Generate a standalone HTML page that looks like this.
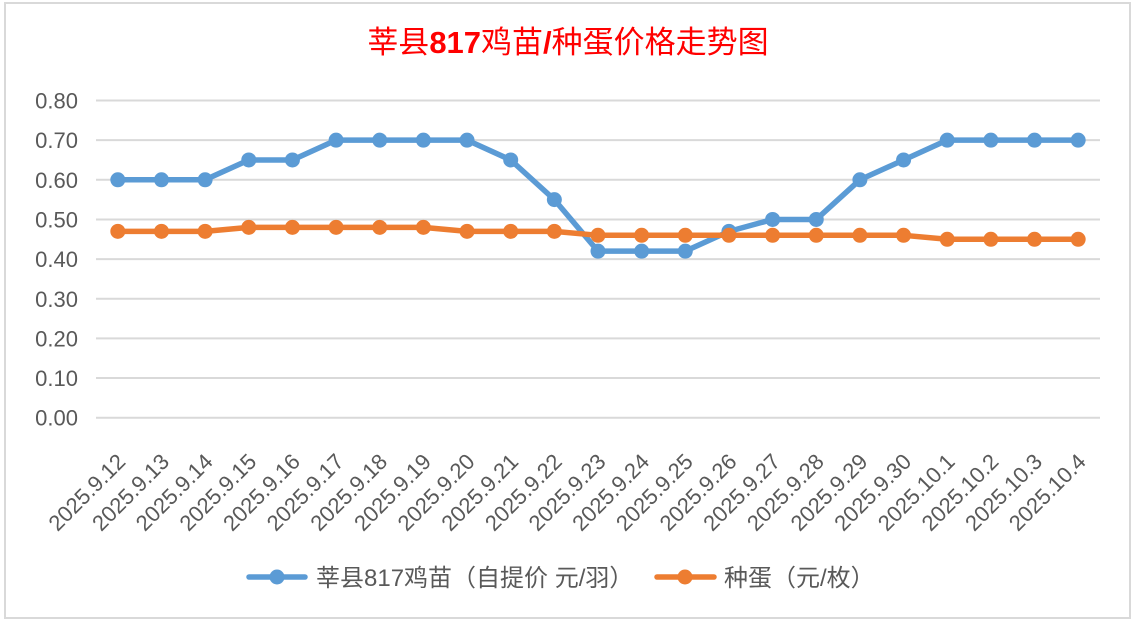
<!DOCTYPE html>
<html><head><meta charset="utf-8"><style>
html,body{margin:0;padding:0;background:#fff;}
svg{display:block;}
</style></head><body>
<svg width="1138" height="622" viewBox="0 0 1138 622" xmlns="http://www.w3.org/2000/svg">
<rect x="0" y="0" width="1138" height="622" fill="#fff"/>
<rect x="5" y="3" width="1125" height="615" fill="#fff" stroke="#d9d9d9" stroke-width="2"/>
<text x="568" y="53" text-anchor="middle" fill="#ff0000" font-size="31" font-family="'Liberation Sans','Noto Sans CJK SC',sans-serif">莘县<tspan font-weight="bold">817</tspan>鸡苗<tspan font-weight="bold">/</tspan>种蛋价格走势图</text>
<g stroke="#d9d9d9" stroke-width="2">
<line x1="96" y1="100.5" x2="1100" y2="100.5"/>
<line x1="96" y1="140.15" x2="1100" y2="140.15"/>
<line x1="96" y1="179.8" x2="1100" y2="179.8"/>
<line x1="96" y1="219.45" x2="1100" y2="219.45"/>
<line x1="96" y1="259.1" x2="1100" y2="259.1"/>
<line x1="96" y1="298.75" x2="1100" y2="298.75"/>
<line x1="96" y1="338.4" x2="1100" y2="338.4"/>
<line x1="96" y1="378.05" x2="1100" y2="378.05"/>
<line x1="96" y1="417.7" x2="1100" y2="417.7"/>
</g>
<g fill="#595959" font-size="22" font-family="'Liberation Sans',sans-serif" text-anchor="end">
<text x="78" y="108.5">0.80</text>
<text x="78" y="148">0.70</text>
<text x="78" y="187.8">0.60</text>
<text x="78" y="227.5">0.50</text>
<text x="78" y="267">0.40</text>
<text x="78" y="306.8">0.30</text>
<text x="78" y="346.5">0.20</text>
<text x="78" y="386">0.10</text>
<text x="78" y="425.7">0.00</text>
</g>
<g fill="#595959" font-size="22" font-family="'Liberation Sans',sans-serif" text-anchor="end">
<text transform="translate(126.8,463) rotate(-45)">2025.9.12</text>
<text transform="translate(170.5,463) rotate(-45)">2025.9.13</text>
<text transform="translate(214.1,463) rotate(-45)">2025.9.14</text>
<text transform="translate(257.8,463) rotate(-45)">2025.9.15</text>
<text transform="translate(301.4,463) rotate(-45)">2025.9.16</text>
<text transform="translate(345.1,463) rotate(-45)">2025.9.17</text>
<text transform="translate(388.7,463) rotate(-45)">2025.9.18</text>
<text transform="translate(432.4,463) rotate(-45)">2025.9.19</text>
<text transform="translate(476.0,463) rotate(-45)">2025.9.20</text>
<text transform="translate(519.7,463) rotate(-45)">2025.9.21</text>
<text transform="translate(563.3,463) rotate(-45)">2025.9.22</text>
<text transform="translate(607.0,463) rotate(-45)">2025.9.23</text>
<text transform="translate(650.6,463) rotate(-45)">2025.9.24</text>
<text transform="translate(694.3,463) rotate(-45)">2025.9.25</text>
<text transform="translate(738.0,463) rotate(-45)">2025.9.26</text>
<text transform="translate(781.6,463) rotate(-45)">2025.9.27</text>
<text transform="translate(825.3,463) rotate(-45)">2025.9.28</text>
<text transform="translate(868.9,463) rotate(-45)">2025.9.29</text>
<text transform="translate(912.6,463) rotate(-45)">2025.9.30</text>
<text transform="translate(956.2,463) rotate(-45)">2025.10.1</text>
<text transform="translate(999.9,463) rotate(-45)">2025.10.2</text>
<text transform="translate(1043.5,463) rotate(-45)">2025.10.3</text>
<text transform="translate(1087.2,463) rotate(-45)">2025.10.4</text>
</g>
<polyline fill="none" stroke="#5b9bd5" stroke-width="5.5" stroke-linejoin="round" stroke-linecap="round" points="117.83,179.8 161.48,179.8 205.13,179.8 248.78,159.98 292.43,159.98 336.09,140.15 379.74,140.15 423.39,140.15 467.04,140.15 510.70,159.98 554.35,199.63 598.00,251.17 641.65,251.17 685.30,251.17 728.96,231.35 772.61,219.45 816.26,219.45 859.91,179.8 903.57,159.98 947.22,140.15 990.87,140.15 1034.52,140.15 1078.17,140.15"/>
<g fill="#5b9bd5">
<circle cx="117.83" cy="179.8" r="7.5"/><circle cx="161.48" cy="179.8" r="7.5"/><circle cx="205.13" cy="179.8" r="7.5"/><circle cx="248.78" cy="159.98" r="7.5"/><circle cx="292.43" cy="159.98" r="7.5"/><circle cx="336.09" cy="140.15" r="7.5"/><circle cx="379.74" cy="140.15" r="7.5"/><circle cx="423.39" cy="140.15" r="7.5"/><circle cx="467.04" cy="140.15" r="7.5"/><circle cx="510.70" cy="159.98" r="7.5"/><circle cx="554.35" cy="199.63" r="7.5"/><circle cx="598.00" cy="251.17" r="7.5"/><circle cx="641.65" cy="251.17" r="7.5"/><circle cx="685.30" cy="251.17" r="7.5"/><circle cx="728.96" cy="231.35" r="7.5"/><circle cx="772.61" cy="219.45" r="7.5"/><circle cx="816.26" cy="219.45" r="7.5"/><circle cx="859.91" cy="179.8" r="7.5"/><circle cx="903.57" cy="159.98" r="7.5"/><circle cx="947.22" cy="140.15" r="7.5"/><circle cx="990.87" cy="140.15" r="7.5"/><circle cx="1034.52" cy="140.15" r="7.5"/><circle cx="1078.17" cy="140.15" r="7.5"/>
</g>
<polyline fill="none" stroke="#ed7d31" stroke-width="5.5" stroke-linejoin="round" stroke-linecap="round" points="117.83,231.35 161.48,231.35 205.13,231.35 248.78,227.38 292.43,227.38 336.09,227.38 379.74,227.38 423.39,227.38 467.04,231.35 510.70,231.35 554.35,231.35 598.00,235.31 641.65,235.31 685.30,235.31 728.96,235.31 772.61,235.31 816.26,235.31 859.91,235.31 903.57,235.31 947.22,239.28 990.87,239.28 1034.52,239.28 1078.17,239.28"/>
<g fill="#ed7d31">
<circle cx="117.83" cy="231.35" r="7.5"/><circle cx="161.48" cy="231.35" r="7.5"/><circle cx="205.13" cy="231.35" r="7.5"/><circle cx="248.78" cy="227.38" r="7.5"/><circle cx="292.43" cy="227.38" r="7.5"/><circle cx="336.09" cy="227.38" r="7.5"/><circle cx="379.74" cy="227.38" r="7.5"/><circle cx="423.39" cy="227.38" r="7.5"/><circle cx="467.04" cy="231.35" r="7.5"/><circle cx="510.70" cy="231.35" r="7.5"/><circle cx="554.35" cy="231.35" r="7.5"/><circle cx="598.00" cy="235.31" r="7.5"/><circle cx="641.65" cy="235.31" r="7.5"/><circle cx="685.30" cy="235.31" r="7.5"/><circle cx="728.96" cy="235.31" r="7.5"/><circle cx="772.61" cy="235.31" r="7.5"/><circle cx="816.26" cy="235.31" r="7.5"/><circle cx="859.91" cy="235.31" r="7.5"/><circle cx="903.57" cy="235.31" r="7.5"/><circle cx="947.22" cy="239.28" r="7.5"/><circle cx="990.87" cy="239.28" r="7.5"/><circle cx="1034.52" cy="239.28" r="7.5"/><circle cx="1078.17" cy="239.28" r="7.5"/>
</g>
<line x1="249" y1="577" x2="305" y2="577" stroke="#5b9bd5" stroke-width="5.5" stroke-linecap="round"/>
<circle cx="277" cy="577" r="7.5" fill="#5b9bd5"/>
<text x="316" y="586" fill="#595959" font-size="24" font-family="'Liberation Sans','Noto Sans CJK SC',sans-serif">莘县817鸡苗（自提价 元/羽）</text>
<line x1="657" y1="577" x2="714" y2="577" stroke="#ed7d31" stroke-width="5.5" stroke-linecap="round"/>
<circle cx="685" cy="577" r="7.5" fill="#ed7d31"/>
<text x="724" y="586" fill="#595959" font-size="24" font-family="'Liberation Sans','Noto Sans CJK SC',sans-serif">种蛋（元/枚）</text>
</svg>
</body></html>
